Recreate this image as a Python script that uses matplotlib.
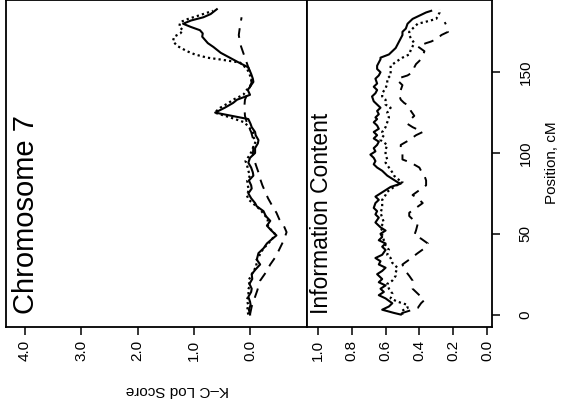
import numpy as np
import matplotlib
matplotlib.use("Agg")
import matplotlib.pyplot as plt

plt.rcParams['font.family'] = ['Liberation Sans', 'DejaVu Sans']

# K-C lod score, chromosome 7 (position cM, score)
lod_solid_pos = [0, 3, 6, 8, 11, 14, 16, 19, 22, 25, 28, 31, 34, 38, 41, 44, 47, 49, 52, 55,
                 58, 61, 64, 67, 69, 72, 75, 78, 80, 83, 86, 88, 91, 94, 97, 100, 103, 106, 108, 111,
                 113, 116, 118, 121, 125, 128, 131, 133, 136, 139, 141, 144, 146, 149, 153, 156, 159, 162, 165.6, 168,
                 172, 174, 176, 178, 180, 182, 184, 186, 189]
lod_solid = [0.00, 0.02, -0.01, 0.00, 0.03, -0.02, -0.03, 0.01, -0.04, -0.03, -0.10, -0.18, -0.12, -0.15, -0.24, -0.30, -0.40, -0.47, -0.38, -0.30,
             -0.36, -0.28, -0.24, -0.12, -0.09, -0.02, 0.03, -0.03, -0.02, 0.02, -0.06, -0.05, -0.02, 0.03, 0.00, -0.09, -0.09, -0.14, -0.15, -0.10,
             -0.09, -0.03, -0.01, 0.03, 0.62, 0.45, 0.30, 0.23, 0.00, 0.04, 0.00, -0.06, -0.05, -0.02, 0.03, 0.20, 0.36, 0.52, 0.65, 0.75,
             0.85, 0.84, 0.89, 1.05, 1.19, 1.05, 0.83, 0.70, 0.59]

lod_dot_pos = [0, 3, 6, 9, 12, 15, 18, 21, 24, 27, 30, 33, 36, 39, 42, 45, 48, 50, 53, 56,
               59, 62, 65, 68, 71, 74, 77, 80, 83, 86, 89, 92, 95, 98, 101, 104, 107, 110, 113, 116,
               119, 122, 125, 128, 131, 133, 136, 139, 141, 144, 148, 152, 156, 158, 159, 161, 163, 166, 169, 172,
               174, 176, 178, 181, 183, 185, 188]
lod_dot = [0.03, 0.05, 0.03, 0.06, 0.02, 0.04, 0.00, 0.03, -0.02, -0.06, -0.12, -0.10, -0.16, -0.20, -0.27, -0.35, -0.42, -0.44, -0.36, -0.30,
           -0.32, -0.25, -0.18, -0.08, 0.02, 0.06, 0.02, 0.04, 0.05, 0.00, 0.03, 0.05, 0.08, 0.02, -0.03, -0.06, -0.10, -0.06, -0.05, 0.02,
           0.10, 0.35, 0.63, 0.53, 0.38, 0.30, 0.12, 0.06, 0.00, -0.03, 0.00, 0.05, 0.18, 0.55, 0.76, 0.98, 1.12, 1.28, 1.37, 1.35,
           1.24, 1.19, 1.26, 1.24, 1.10, 0.92, 0.66]

lod_dash_pos = [0, 5, 10, 15, 21, 26, 31, 36, 41, 46, 51, 55, 59, 63, 67, 72, 76, 80, 84, 88,
                93, 99, 104, 108, 113, 118, 123, 129, 133, 138, 144, 148, 153, 157, 162, 166, 169, 173, 178, 184]
lod_dash = [0.00, -0.03, -0.08, -0.13, -0.18, -0.28, -0.36, -0.46, -0.53, -0.60, -0.65, -0.60, -0.52, -0.47, -0.40, -0.32, -0.27, -0.22, -0.18, -0.15,
            -0.10, -0.05, -0.06, -0.06, -0.02, 0.05, 0.09, 0.10, 0.09, 0.03, -0.03, -0.02, 0.03, 0.07, 0.12, 0.16, 0.18, 0.20, 0.18, 0.15]

# information content (position cM, value)
info_solid_pos = [0, 1, 3, 5, 7, 10, 12, 14, 16, 18, 20, 22, 25, 27, 29, 31, 33, 35, 37, 40,
                  42, 44, 46, 48, 50, 52, 54, 57, 60, 62, 64, 66, 69, 71, 73, 75, 77, 79, 81, 82,
                  84, 86, 88, 89, 91, 93, 95, 97, 99, 101, 103, 105, 107, 109, 111, 113, 115, 117, 119, 121,
                  122, 124, 126, 128, 130, 132, 135, 137, 139, 141, 143, 146, 148, 150, 152, 154, 156, 158, 159, 161,
                  162, 164, 165, 167, 169, 171, 173, 175, 177, 180, 182, 183, 185, 187, 188]
info_solid = [0.51, 0.55, 0.62, 0.58, 0.56, 0.60, 0.64, 0.61, 0.63, 0.60, 0.64, 0.62, 0.65, 0.62, 0.60, 0.64, 0.63, 0.66, 0.62, 0.60,
              0.62, 0.60, 0.64, 0.62, 0.63, 0.60, 0.63, 0.66, 0.64, 0.66, 0.65, 0.67, 0.66, 0.64, 0.66, 0.63, 0.60, 0.57, 0.51, 0.53,
              0.56, 0.59, 0.61, 0.62, 0.65, 0.67, 0.66, 0.67, 0.69, 0.66, 0.67, 0.65, 0.64, 0.67, 0.65, 0.67, 0.64, 0.65, 0.67, 0.65,
              0.66, 0.64, 0.65, 0.63, 0.65, 0.67, 0.68, 0.66, 0.65, 0.67, 0.65, 0.66, 0.64, 0.63, 0.65, 0.65, 0.64, 0.63, 0.63, 0.58,
              0.57, 0.55, 0.54, 0.53, 0.52, 0.51, 0.50, 0.50, 0.48, 0.47, 0.45, 0.44, 0.40, 0.36, 0.33]

info_dot_pos = [0, 2, 4, 6, 8, 10, 13, 16, 19, 21, 24, 26, 29, 32, 35, 37, 40, 43, 46, 49,
                52, 54, 57, 60, 63, 66, 68, 71, 74, 76, 79, 82, 84, 86, 88, 91, 94, 96, 99, 102,
                105, 108, 111, 113, 116, 119, 122, 125, 128, 130, 133, 135, 137, 140, 143, 146, 148, 151, 154, 157,
                159, 161, 164, 166, 168, 171, 173, 175, 177, 180, 181, 183, 185, 187, 189]
info_dot = [0.50, 0.51, 0.47, 0.47, 0.53, 0.57, 0.56, 0.58, 0.59, 0.56, 0.54, 0.54, 0.53, 0.56, 0.57, 0.59, 0.58, 0.60, 0.61, 0.62,
            0.62, 0.63, 0.61, 0.62, 0.63, 0.62, 0.62, 0.62, 0.60, 0.59, 0.55, 0.50, 0.53, 0.55, 0.56, 0.58, 0.60, 0.59, 0.60, 0.60,
            0.59, 0.63, 0.61, 0.62, 0.60, 0.59, 0.58, 0.59, 0.57, 0.60, 0.60, 0.62, 0.62, 0.60, 0.59, 0.59, 0.57, 0.57, 0.57, 0.53,
            0.50, 0.46, 0.45, 0.44, 0.43, 0.45, 0.46, 0.46, 0.44, 0.41, 0.37, 0.30, 0.29, 0.28, 0.28]

info_dash_pos = [0, 1, 4, 7, 9, 12, 16, 19, 21, 24, 28, 31, 34, 38, 41, 44, 47, 49, 52, 56,
                 59, 61, 63, 66, 69, 72, 74, 77, 80, 83, 86, 89, 91, 94, 96, 99, 101, 103, 105, 108,
                 111, 113, 116, 118, 121, 123, 126, 129, 131, 133, 136, 139, 142, 144, 146, 148, 150, 153, 155, 157,
                 160, 163, 166, 168, 169, 171, 173, 175, 177, 179, 181]
info_dash = [0.50, 0.50, 0.41, 0.39, 0.37, 0.40, 0.44, 0.44, 0.44, 0.46, 0.49, 0.50, 0.46, 0.41, 0.37, 0.35, 0.39, 0.43, 0.42, 0.41,
             0.44, 0.46, 0.46, 0.42, 0.38, 0.41, 0.44, 0.40, 0.36, 0.36, 0.37, 0.39, 0.40, 0.45, 0.50, 0.50, 0.50, 0.51, 0.51, 0.46,
             0.42, 0.38, 0.44, 0.47, 0.45, 0.43, 0.45, 0.46, 0.49, 0.51, 0.52, 0.51, 0.50, 0.52, 0.53, 0.47, 0.44, 0.43, 0.42, 0.40,
             0.38, 0.37, 0.41, 0.36, 0.33, 0.29, 0.27, 0.23, 0.24, 0.24, 0.25]

lod_ticks = [4.0, 3.0, 2.0, 1.0, 0.0]
info_ticks = [1.0, 0.8, 0.6, 0.4, 0.2, 0.0]
pos_ticks = [0, 50, 100, 150]

W, H = 565, 411
fig = plt.figure(figsize=(W / 100, H / 100), dpi=100)

ax1 = fig.add_axes([6 / W, 1 - 327 / H, (307 - 6) / W, 327 / H])
ax2 = fig.add_axes([307 / W, 1 - 327 / H, (492 - 307) / W, 327 / H])

solid = dict(color='black', lw=1.5, ls='-')
dotted = dict(color='black', lw=1.6, ls=(0, (1.0, 1.4)))
dashed = dict(color='black', lw=1.4, ls=(0, (5, 4)))

ax1.plot(lod_dash, lod_dash_pos, **dashed)
ax1.plot(lod_dot, lod_dot_pos, **dotted)
ax1.plot(lod_solid, lod_solid_pos, **solid)
ax2.plot(info_dash, info_dash_pos, **dashed)
ax2.plot(info_dot, info_dot_pos, **dotted)
ax2.plot(info_solid, info_solid_pos, **solid)

ylim = (-7.7, 194.7)
ax1.set_xlim(4.338, -1.013)
ax1.set_ylim(*ylim)
ax2.set_xlim(1.065, -0.03)
ax2.set_ylim(*ylim)

for ax, ticks in ((ax1, lod_ticks), (ax2, info_ticks)):
    ax.set_xticks(ticks)
    ax.set_xticklabels([f'{t:.1f}' for t in ticks], rotation=90, fontsize=11)
    ax.tick_params(axis='x', direction='out', length=6, width=1.1, pad=3)
    for s in ax.spines.values():
        s.set_linewidth(1.3)

ax1.set_yticks([])
ax2.yaxis.tick_right()
ax2.set_yticks(pos_ticks)
ax2.set_yticklabels([str(p) for p in pos_ticks], rotation=90, fontsize=11, va='center')
ax2.tick_params(axis='y', direction='out', length=6, width=1.1, pad=13)

ax1.text(0.065, 0.04, 'Chromosome 7', transform=ax1.transAxes, rotation=90,
         ha='center', va='bottom', fontsize=21)
ax2.text(0.08, 0.04, 'Information Content', transform=ax2.transAxes, rotation=90,
         ha='center', va='bottom', fontsize=16.5)

fig.text(177 / W, 1 - 390 / H, 'K\u2013C Lod Score', rotation=180, ha='center', va='center', fontsize=11)
fig.text(552 / W, 1 - 163 / H, 'Position, cM', rotation=90, ha='center', va='center', fontsize=11)

fig.savefig('out.png', dpi=100)
